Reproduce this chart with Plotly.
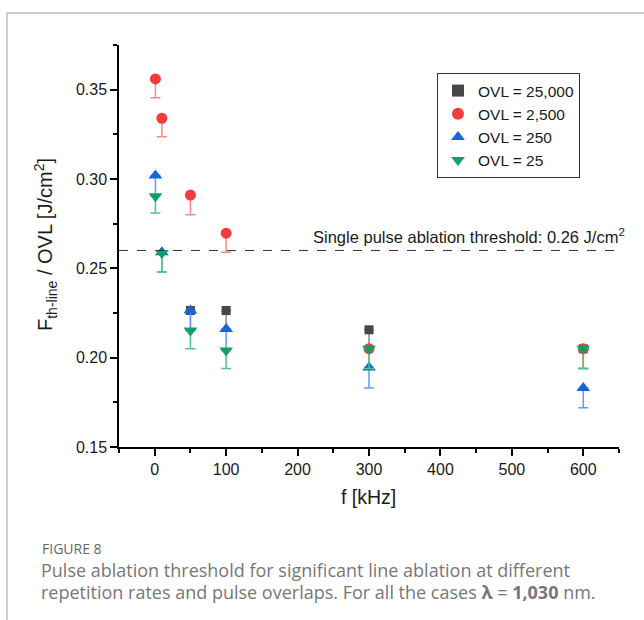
import plotly.graph_objects as go

# ---- data ----
f_all = [1, 10, 50, 100, 300, 600]
f_gray = [50, 100, 300, 600]
ovl25000 = [0.2264, 0.2264, 0.2156, 0.205]
ovl25000_err = [0.011, 0.011, 0.011, 0.011]
ovl2500 = [0.356, 0.334, 0.291, 0.2697, 0.205, 0.205]
ovl2500_err = [0.0105, 0.0104, 0.011, 0.0107, 0.011, 0.011]
ovl250 = [0.302, 0.259, 0.2264, 0.216, 0.1945, 0.183]
ovl250_err = [0.011, 0.011, 0.011, 0.011, 0.0115, 0.011]
ovl25 = [0.2904, 0.2586, 0.2152, 0.204, 0.205, 0.205]
ovl25_err = [0.0094, 0.0106, 0.0102, 0.010, 0.011, 0.011]
threshold = 0.26

W, H = 644, 620
L, R, T, B = 119, 25, 45, 173
pw, ph = W - L - R, H - T - B


def px(x):
    return (x - L) / pw


def py(y):
    return (H - B - y) / ph


FONT = "Liberation Sans, Arial, sans-serif"

fig = go.Figure()
series = [
    ("OVL = 25,000", f_gray, ovl25000, ovl25000_err, "square", "#474747", "#8a8a8a", 9),
    ("OVL = 2,500", f_all, ovl2500, ovl2500_err, "circle", "#f53b3b", "#f58c8c", 11),
    ("OVL = 250", f_all, ovl250, ovl250_err, "triangle-up", "#1466d9", "#5c9ef0", 12),
    ("OVL = 25", f_all, ovl25, ovl25_err, "triangle-down", "#13a064", "#4cc48f", 12),
]
for name, xs, ys, es, sym, col, ecol, size in series:
    fig.add_trace(go.Scatter(
        x=xs, y=ys, mode="markers", name=name,
        marker=dict(symbol=sym, color=col, size=size, line=dict(width=0)),
        error_y=dict(type="data", symmetric=False, array=[0] * len(es),
                     arrayminus=es, color=ecol, thickness=1.5, width=5),
    ))

fig.add_shape(type="line", xref="paper", yref="y", x0=0, x1=1,
              y0=threshold, y1=threshold,
              line=dict(color="#333333", width=1, dash="dash"))

annotations = [
    dict(text="Single pulse ablation threshold: 0.26 J/cm<sup>2</sup>",
         xref="paper", yref="y", x=px(627), y=threshold, xanchor="right",
         yanchor="bottom", yshift=2, showarrow=False,
         font=dict(family=FONT, size=16.5, color="#1a1a1a")),
    dict(text="f [kHz]", xref="paper", yref="paper", x=px(368), y=py(497),
         xanchor="center", yanchor="middle", showarrow=False,
         font=dict(family=FONT, size=19.5, color="#1a1a1a")),
    dict(text="F<sub>th-line</sub> / OVL [J/cm<sup>2</sup>]", xref="paper",
         yref="paper", x=px(46), y=py(245), textangle=-90, xanchor="center",
         yanchor="middle", showarrow=False,
         font=dict(family=FONT, size=20, color="#1a1a1a")),
    dict(text="FIGURE 8", xref="paper", yref="paper", x=px(40), y=py(548),
         xanchor="left", yanchor="middle", showarrow=False,
         font=dict(family="Open Sans, sans-serif", size=14, color="#666666")),
    dict(text="Pulse ablation threshold for significant line ablation at different",
         xref="paper", yref="paper", x=px(39), y=py(570), xanchor="left",
         yanchor="middle", showarrow=False,
         font=dict(family="Open Sans, sans-serif", size=18, color="#777777")),
    dict(text="repetition rates and pulse overlaps. For all the cases "
              "<b>λ</b> = <b>1,030</b> nm.",
         xref="paper", yref="paper", x=px(39), y=py(592), xanchor="left",
         yanchor="middle", showarrow=False,
         font=dict(family="Open Sans, sans-serif", size=18, color="#777777")),
]

shapes_frame = [
    dict(type="line", xref="paper", yref="paper", x0=px(7), x1=px(7),
         y0=py(13), y1=py(H + 5), line=dict(color="#bdbdbd", width=1.5)),
    dict(type="line", xref="paper", yref="paper", x0=px(7), x1=px(W + 5),
         y0=py(13), y1=py(13), line=dict(color="#bdbdbd", width=1.5)),
]
for s in shapes_frame:
    fig.add_shape(**s)

axis_common = dict(showline=True, linecolor="#000000", linewidth=1.5,
                   ticks="outside", ticklen=7, tickwidth=1.5, tickcolor="#000000",
                   showgrid=False, zeroline=False, mirror=False,
                   tickfont=dict(family=FONT, size=16, color="#1a1a1a"))

fig.update_layout(
    width=W, height=H,
    margin=dict(l=L, r=R, t=T, b=B, autoexpand=False),
    paper_bgcolor="white", plot_bgcolor="white",
    annotations=annotations,
    showlegend=True,
    legend=dict(x=px(437), y=py(73), xanchor="left", yanchor="top",
                bordercolor="#333333", borderwidth=1, bgcolor="white",
                font=dict(family=FONT, size=15.5, color="#1a1a1a"),
                itemsizing="constant", tracegroupgap=0),
    xaxis=dict(range=[-50, 650], tick0=0, dtick=100,
               minor=dict(dtick=50, ticklen=4, tickwidth=1.5, ticks="outside",
                          tickcolor="#000000"),
               **axis_common),
    yaxis=dict(range=[0.15, 0.375], tick0=0.15, dtick=0.05, tickformat=".2f",
               minor=dict(dtick=0.025, ticklen=4, tickwidth=1.5, ticks="outside",
                          tickcolor="#000000"),
               **axis_common),
)

fig.write_html("out.html")
